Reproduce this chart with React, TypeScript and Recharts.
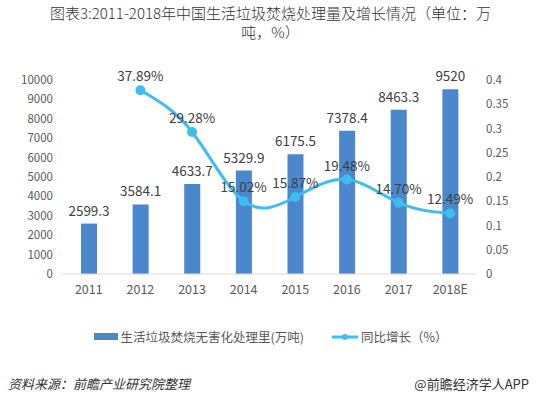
import React from "react";
import {
  ComposedChart,
  Bar,
  Line,
  XAxis,
  YAxis,
  LabelList,
  Legend,
} from "recharts";

const years = ["2011", "2012", "2013", "2014", "2015", "2016", "2017", "2018E"];
const volume = [2599.3, 3584.1, 4633.7, 5329.9, 6175.5, 7378.4, 8463.3, 9520];
const growth = [null, 0.3789, 0.2928, 0.1502, 0.1587, 0.1948, 0.147, 0.1249];
const leftTicks = [0, 1000, 2000, 3000, 4000, 5000, 6000, 7000, 8000, 9000, 10000];
const rightTicks = [0, 0.05, 0.1, 0.15, 0.2, 0.25, 0.3, 0.35, 0.4];

const BAR_COLOR = "#4a87cc";
const LINE_COLOR = "#3dbdf0";
const FONT = "'Noto Sans CJK SC', 'Noto Sans', sans-serif";

const data = years.map((y, i) => ({ year: y, volume: volume[i], growth: growth[i] }));

function LegendContent() {
  return (
    <div
      style={{
        display: "flex",
        justifyContent: "center",
        alignItems: "center",
        gap: 28,
        fontSize: 12.5,
        color: "#595959",
        fontFamily: FONT,
      }}
    >
      <span style={{ display: "flex", alignItems: "center", gap: 3 }}>
        <span style={{ display: "inline-block", width: 24, height: 7, background: BAR_COLOR }} />
        生活垃圾焚烧无害化处理里(万吨)
      </span>
      <span style={{ display: "flex", alignItems: "center", gap: 3 }}>
        <svg width={26} height={10}>
          <line x1={0} y1={5} x2={26} y2={5} stroke={LINE_COLOR} strokeWidth={3} />
          <circle cx={13} cy={5} r={3} fill={LINE_COLOR} />
        </svg>
        同比增长（%）
      </span>
    </div>
  );
}

export default function App() {
  return (
    <div
      style={{
        position: "absolute",
        left: 0,
        top: 0,
        width: 541,
        height: 398,
        background: "#fff",
        fontFamily: FONT,
        overflow: "hidden",
      }}
    >
      <div
        style={{
          position: "absolute",
          top: 3,
          left: 0,
          width: 541,
          textAlign: "center",
          fontSize: 15,
          lineHeight: "19px",
          color: "#333",
          fontWeight: 300,
        }}
      >
        图表3:2011-2018年中国生活垃圾焚烧处理量及增长情况（单位：万
        <br />
        吨，%）
      </div>
      <ComposedChart
        width={541}
        height={398}
        data={data}
        margin={{ top: 80, right: 0, bottom: 75, left: 0 }}
        barSize={16}
      >
        <XAxis
          dataKey="year"
          height={30}
          tickLine={false}
          axisLine={{ stroke: "#d9d9d9" }}
          tick={{ fontSize: 12.5, fill: "#595959" }}
          tickMargin={5}
        />
        <YAxis
          yAxisId="left"
          width={63}
          domain={[0, 10000]}
          ticks={leftTicks}
          interval={0}
          tickLine={false}
          axisLine={false}
          tick={{ fontSize: 11.5, fill: "#595959" }}
          tickMargin={4}
        />
        <YAxis
          yAxisId="right"
          orientation="right"
          width={65}
          domain={[0, 0.4]}
          ticks={rightTicks}
          interval={0}
          tickLine={false}
          axisLine={false}
          tick={{ fontSize: 11.5, fill: "#595959" }}
          tickMargin={4}
        />
        <Legend
          verticalAlign="bottom"
          content={<LegendContent />}
          wrapperStyle={{ top: 327, left: 0, width: 541 }}
        />
        <Bar yAxisId="left" dataKey="volume" fill={BAR_COLOR} isAnimationActive={false}>
          <LabelList
            dataKey="volume"
            position="top"
            offset={8}
            style={{ fontSize: 13.5, fill: "#404040" }}
          />
        </Bar>
        <Line
          yAxisId="right"
          type="natural"
          dataKey="growth"
          stroke={LINE_COLOR}
          strokeWidth={3}
          dot={{ r: 3.5, fill: LINE_COLOR, stroke: LINE_COLOR }}
          activeDot={false}
          isAnimationActive={false}
        >
          <LabelList
            dataKey="growth"
            position="top"
            offset={9}
            formatter={(v: any) => (v == null ? "" : `${(v * 100).toFixed(2)}%`)}
            style={{ fontSize: 13.5, fill: "#404040" }}
          />
        </Line>
      </ComposedChart>
      <div
        style={{
          position: "absolute",
          left: 8,
          top: 374,
          fontSize: 13,
          fontStyle: "italic",
          color: "#333",
        }}
      >
        资料来源：前瞻产业研究院整理
      </div>
      <div
        style={{
          position: "absolute",
          right: 12,
          top: 374,
          fontSize: 13,
          color: "#333",
        }}
      >
        @前瞻经济学人APP
      </div>
    </div>
  );
}
